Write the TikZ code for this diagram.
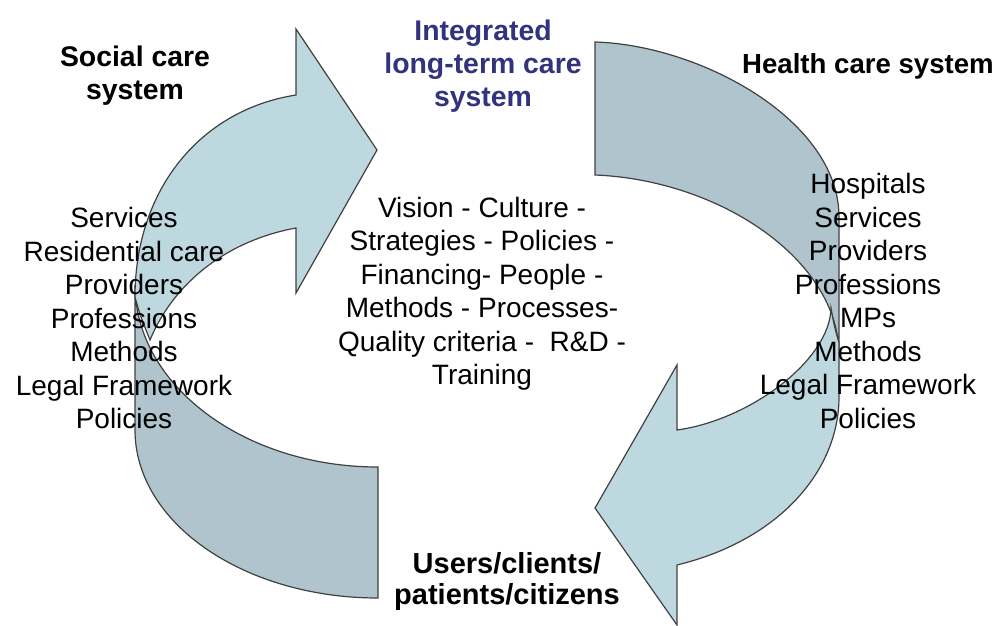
\documentclass[tikz,border=0pt]{standalone}
\usepackage{fontspec}
\setmainfont{Liberation Sans}
\definecolor{ribbonfront}{RGB}{190,216,224}
\definecolor{ribbonback}{RGB}{176,196,205}
\definecolor{titleblue}{RGB}{50,50,125}

\begin{document}
\begin{tikzpicture}[x=0.5pt, y=-0.5pt]
    \tikzstyle{ribbon}=[draw=black!75, line width=0.6pt, line join=miter]
    \tikzstyle{front}=[ribbon, fill=ribbonfront]
    \tikzstyle{back}=[ribbon, fill=ribbonback]
    \tikzstyle{heading}=[align=center, inner sep=0, font=\bfseries\fontsize{14.2}{16.5}\selectfont]
    \tikzstyle{items}=[align=center, inner sep=0, font=\fontsize{14}{16.75}\selectfont]

    \useasboundingbox (0,0) rectangle (1002,626);

    % social care arrow
    \path[back] (378,598) .. controls (244,598) and (135,523) .. (135,430)
        -- (135,285) .. controls (135,385) and (244,467) .. (378,467) -- cycle;
    \path[front] (296,95) .. controls (200,110) and (135,190) .. (135,297)
        .. controls (140,315) .. (150,340)
        .. controls (175,280) and (230,240) .. (296,228)
        -- (296,293) -- (377,150) -- (296,29) -- cycle;

    % health care arrow
    \path[back] (595,42) .. controls (700,45) and (839,120) .. (839,217)
        -- (839,355) .. controls (839,260) and (720,180) .. (595,175) -- cycle;
    \path[front] (677,565) .. controls (780,540) and (839,470) .. (839,397)
        -- (839,343) .. controls (834,325) .. (831,308)
        .. controls (830,360) and (750,420) .. (677,430)
        -- (677,365) -- (595,508) -- (677,625) -- cycle;

    \node[heading] (social) at (135,76) {Social care\\system};
    \node[heading, text=titleblue] (ltc) at (483,66) {Integrated\\long-term care\\system};
    \node[heading, font=\bfseries\fontsize{13.8}{16}\selectfont] (health) at (868,66) {Health care system};
    \node[heading, font=\bfseries\fontsize{14.5}{15.5}\selectfont] (users) at (507,581) {Users/clients/\\patients/citizens};

    \node[items] (social items) at (124,318) {Services\\Residential care\\Providers\\Professions\\Methods\\Legal Framework\\Policies};
    \node[items] (health items) at (868,301) {Hospitals\\Services\\Providers\\Professions\\MPs\\Methods\\Legal Framework\\Policies};
    \node[items] (ltc items) at (482,294) {Vision - Culture -\\Strategies - Policies -\\Financing- People -\\Methods - Processes-\\Quality criteria - \ R\&D -\\Training};
\end{tikzpicture}
\end{document}
